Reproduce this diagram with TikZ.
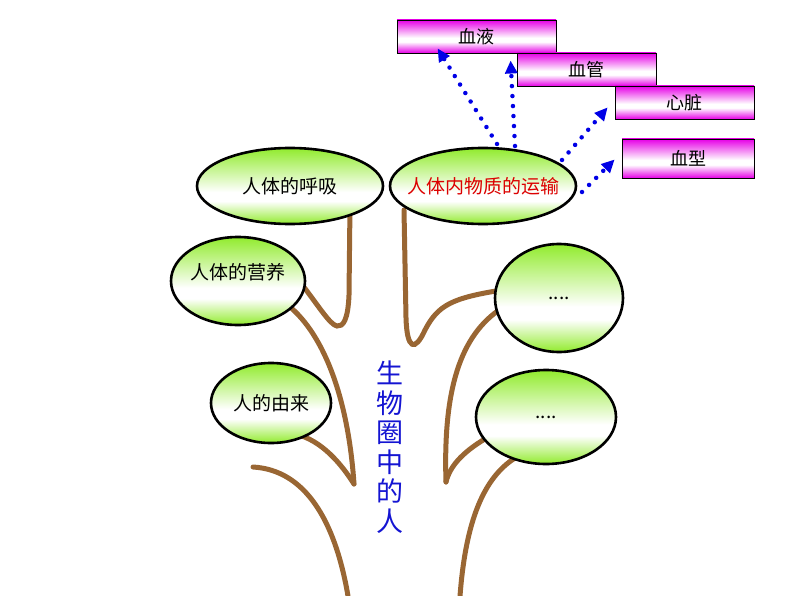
\documentclass[tikz,border=0pt]{standalone}
\usepackage{fontspec}
\newfontfamily\cjk{Noto Sans CJK SC}
\usetikzlibrary{shapes.geometric,arrows.meta,calc,backgrounds}
\definecolor{grn}{RGB}{145,235,45}
\definecolor{mag}{RGB}{230,0,230}
\definecolor{brn}{RGB}{153,102,51}
\definecolor{arrblue}{RGB}{0,0,230}
\definecolor{txtblue}{RGB}{20,20,210}
\definecolor{txtred}{RGB}{220,0,0}
\pgfdeclareverticalshading{greenfill}{100bp}{color(0bp)=(grn); color(25bp)=(grn); color(40bp)=(white); color(46bp)=(white); color(75bp)=(grn); color(100bp)=(grn)}
\pgfdeclareverticalshading{magfill}{100bp}{color(0bp)=(mag); color(25bp)=(mag); color(42bp)=(white); color(48bp)=(white); color(75bp)=(mag); color(100bp)=(mag)}
\newcommand{\ztext}[1]{\makebox[0pt]{#1}}
\tikzset{
  ell/.style={ellipse, draw=black, line width=2.6pt, shading=greenfill, inner sep=0pt,
    font=\cjk\fontsize{19}{19}\selectfont},
  box/.style={rectangle, draw=black, line width=0.8pt, shading=magfill, inner sep=0pt,
    font=\cjk\fontsize{18}{18}\selectfont},
  branch/.style={draw=brn, line width=5pt, line cap=round},
  dotarrow/.style={draw=arrblue, line width=4.5pt, line cap=round, dash pattern=on 0pt off 10pt,
    -{Triangle[length=13pt,width=12pt]}, arrblue},
}
\begin{document}
\begin{tikzpicture}[x=1pt,y=-1pt]
\useasboundingbox (0,0) rectangle (794,596);
% ellipses
\node[ell, minimum width=186, minimum height=76] (breath) at (290,186) {\ztext{人体的呼吸}};
\node[ell, minimum width=186, minimum height=76, text=txtred] (trans) at (483,186) {\ztext{人体内物质的运输}};
\node[ell, minimum width=134, minimum height=88, label={[yshift=9pt,font=\cjk\fontsize{19}{19}\selectfont]center:人体的营养}] (nutri) at (238,281) {};
\node[ell, minimum width=120, minimum height=80] (origin) at (271,403) {\ztext{人的由来}};
\node[ell, minimum width=128, minimum height=108] (dots1) at (559,298) {\ztext{....}};
\node[ell, minimum width=140, minimum height=94] (dots2) at (546,417) {\ztext{....}};
% boxes
\node[box, minimum width=159, minimum height=33] (blood) at (476.5,36.5) {血液};
\node[box, minimum width=139, minimum height=33] (vessel) at (586.5,69.5) {血管};
\node[box, minimum width=139, minimum height=33] (heart) at (684.5,102.5) {心脏};
\node[box, minimum width=132, minimum height=39] (btype) at (688,158.5) {血型};
% title
\node[font=\cjk\fontsize{27}{29.5}\selectfont, text=txtblue, align=center] (title) at (390,447) {生\\物\\圈\\中\\的\\人};
% arrows
\draw[dotarrow] ($(trans.center)+(14,-42)$) -- ($(blood.south west)+(41,-5)$);
\draw[dotarrow] ($(trans.center)+(32,-40)$) -- ($(vessel.west)+(-6,-9)$);
\draw[dotarrow] ($(trans.center)+(79,-26)$) -- ($(heart.south west)+(-7,-12)$);
\draw[dotarrow] ($(trans.center)+(99,6)$) -- ($(btype.west)+(-7,1)$);
% branches
\begin{scope}[on background layer]
\draw[branch] (350,205) -- (349,295) .. controls (348,320) and (343,327) .. (337,326) .. controls (330,325) and (318,305) .. (300,282);
\draw[branch] (285,303) .. controls (322,330) and (348,395) .. (354,484);
\draw[branch] (295,434) .. controls (322,440) and (342,465) .. (354,484);
\draw[branch] (253,467) .. controls (305,470) and (335,520) .. (348,596);
\draw[branch] (404,210) -- (406,318) .. controls (407,350) and (415,352) .. (425,330) .. controls (438,305) and (452,298) .. (502,290);
\draw[branch] (502,308) .. controls (460,335) and (443,390) .. (446,482);
\draw[branch] (490,436) .. controls (465,450) and (450,465) .. (446,482);
\draw[branch] (515,458) .. controls (480,480) and (465,530) .. (460,596);
\end{scope}
\end{tikzpicture}
\end{document}
